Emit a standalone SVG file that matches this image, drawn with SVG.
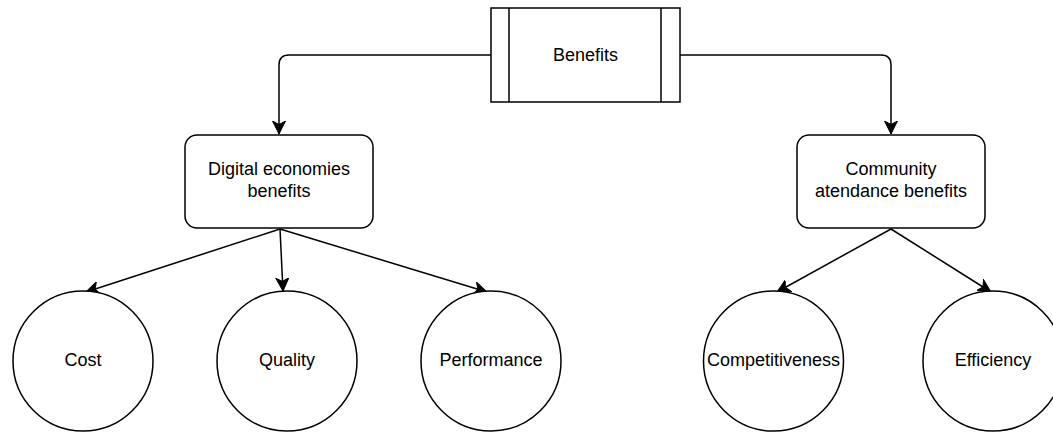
<svg xmlns="http://www.w3.org/2000/svg" width="1053" height="432" viewBox="0 0 1053 432">
  <style>
    .shape { fill: #ffffff; stroke: #000000; stroke-width: 1.5; }
    .edge { fill: none; stroke: #000000; stroke-width: 1.5; }
    .label { font-family: "Liberation Sans", Arial, sans-serif; font-size: 18px; fill: #000000; text-anchor: middle; }
  </style>
  <defs>
    <marker id="arrow" viewBox="0 0 14 14" refX="13" refY="7" markerWidth="14" markerHeight="14" markerUnits="userSpaceOnUse" orient="auto">
      <path d="M13,7 L0,0.5 L3.5,7 L0,13.5 Z" fill="#000000" stroke="#000000" stroke-width="1"/>
    </marker>
  </defs>
  <rect width="1053" height="432" fill="#ffffff"/>
  <g id="connectors">
    <path class="edge" d="M491,55 L289,55 Q279,55 279,65 L279,134" marker-end="url(#arrow)"/>
    <path class="edge" d="M680,55 L881,55 Q891,55 891,65 L891,134" marker-end="url(#arrow)"/>
    <path class="edge" d="M280,229 L86,292" marker-end="url(#arrow)"/>
    <path class="edge" d="M280,229 L283,291" marker-end="url(#arrow)"/>
    <path class="edge" d="M280,229 L487,292" marker-end="url(#arrow)"/>
    <path class="edge" d="M891,229 L777,292" marker-end="url(#arrow)"/>
    <path class="edge" d="M891,229 L991,292" marker-end="url(#arrow)"/>
  </g>
  <g id="benefits">
    <rect class="shape" x="491" y="8" width="189" height="94"/>
    <line class="edge" x1="509" y1="8" x2="509" y2="102"/>
    <line class="edge" x1="661" y1="8" x2="661" y2="102"/>
    <text class="label" x="585.5" y="61">Benefits</text>
  </g>
  <g id="digital">
    <rect class="shape" x="185" y="135" width="188" height="93" rx="12" ry="12"/>
    <text class="label" x="279" y="175">Digital economies</text>
    <text class="label" x="279" y="197">benefits</text>
  </g>
  <g id="community">
    <rect class="shape" x="797" y="135" width="188" height="93" rx="12" ry="12"/>
    <text class="label" x="891" y="175">Community</text>
    <text class="label" x="891" y="197">atendance benefits</text>
  </g>
  <g id="cost">
    <circle class="shape" cx="83" cy="361" r="70"/>
    <text class="label" x="83" y="366">Cost</text>
  </g>
  <g id="quality">
    <circle class="shape" cx="287" cy="361" r="70"/>
    <text class="label" x="287" y="366">Quality</text>
  </g>
  <g id="performance">
    <circle class="shape" cx="491" cy="361" r="70"/>
    <text class="label" x="491" y="366">Performance</text>
  </g>
  <g id="competitiveness">
    <circle class="shape" cx="773.5" cy="361" r="70"/>
    <text class="label" x="773.5" y="366">Competitiveness</text>
  </g>
  <g id="efficiency">
    <circle class="shape" cx="993" cy="361" r="70"/>
    <text class="label" x="993" y="366">Efficiency</text>
  </g>
</svg>
